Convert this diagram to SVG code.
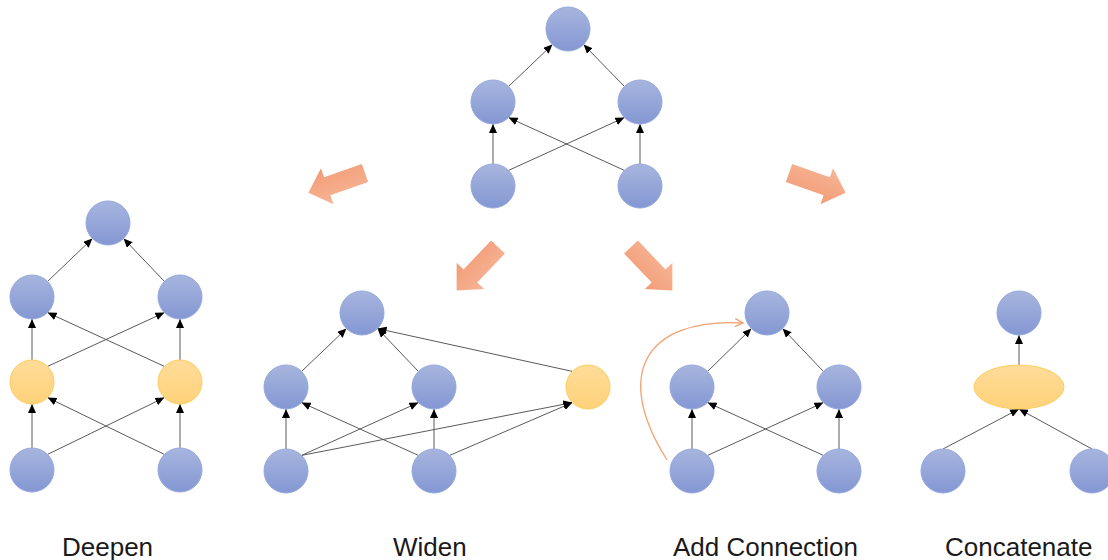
<svg xmlns="http://www.w3.org/2000/svg" width="1108" height="560" viewBox="0 0 1108 560">
<defs>
<linearGradient id="gB" x1="0" y1="0" x2="0" y2="1"><stop offset="0" stop-color="#a7b5de"/><stop offset="1" stop-color="#8497d3"/></linearGradient>
<linearGradient id="gY" x1="0" y1="0" x2="0" y2="1"><stop offset="0" stop-color="#ffdc9a"/><stop offset="1" stop-color="#ffd27a"/></linearGradient>
<linearGradient id="gO" x1="0" y1="0" x2="0" y2="1"><stop offset="0" stop-color="#f7b597"/><stop offset="1" stop-color="#f29c76"/></linearGradient>
<marker id="ah" viewBox="0 0 9 8" refX="9" refY="4" markerWidth="9" markerHeight="8" markerUnits="userSpaceOnUse" orient="auto"><path d="M0,0 L9,4 L0,8 z" fill="#000"/></marker>
<marker id="oh" viewBox="0 0 10 10" refX="9" refY="5" markerWidth="10" markerHeight="10" markerUnits="userSpaceOnUse" orient="auto"><path d="M1,1 L9,5 L1,9" fill="none" stroke="#f4a070" stroke-width="1.3"/></marker>
<polygon id="fat" points="0,-9.5 40,-9.5 40,-19 60,0 40,19 40,9.5 0,9.5"/>
</defs>
<style>
.n{fill:url(#gB);stroke:#94a8de;stroke-width:1}
.y{fill:url(#gY);stroke:#fdcc5c;stroke-width:1}
.e line{stroke:#5a5a5a;stroke-width:1;marker-end:url(#ah)}
.big{fill:url(#gO)}
.lbl{font-family:"Liberation Sans",Arial,sans-serif;font-size:26px;fill:#1a1a1a}
</style>
<rect width="1108" height="560" fill="#fff"/>

<g id="bigArrows" class="big">
<use href="#fat" transform="translate(365,173) rotate(160.7)"/>
<use href="#fat" transform="translate(789,173) rotate(19.3)"/>
<use href="#fat" transform="translate(498,247) rotate(133.6)"/>
<use href="#fat" transform="translate(631,247) rotate(46.4)"/>
</g>

<g id="connectors" class="e">
<!-- top graph -->
<line x1="493" y1="164" x2="493" y2="124"/>
<line x1="640" y1="164" x2="640" y2="124"/>
<line x1="508.6" y1="170.4" x2="624.4" y2="117.6"/>
<line x1="624.4" y1="170.4" x2="508.6" y2="117.6"/>
<line x1="508.6" y1="86.4" x2="552.4" y2="44.6"/>
<line x1="624.4" y1="86.4" x2="583.6" y2="44.6"/>
<!-- deepen -->
<line x1="32" y1="448" x2="32" y2="404"/>
<line x1="180" y1="448" x2="180" y2="404"/>
<line x1="47.6" y1="454.4" x2="164.4" y2="397.6"/>
<line x1="164.4" y1="454.4" x2="47.6" y2="397.6"/>
<line x1="32" y1="360" x2="32" y2="319"/>
<line x1="180" y1="360" x2="180" y2="319"/>
<line x1="47.6" y1="366.4" x2="164.4" y2="312.6"/>
<line x1="164.4" y1="366.4" x2="47.6" y2="312.6"/>
<line x1="47.6" y1="281.4" x2="92.4" y2="238.6"/>
<line x1="164.4" y1="281.4" x2="123.6" y2="238.6"/>
<!-- widen -->
<line x1="286" y1="449" x2="286" y2="409"/>
<line x1="434" y1="449" x2="434" y2="409"/>
<line x1="301.6" y1="455.4" x2="418.4" y2="402.6"/>
<line x1="418.4" y1="455.4" x2="301.6" y2="402.6"/>
<line x1="301.6" y1="371.4" x2="346.4" y2="328.6"/>
<line x1="418.4" y1="371.4" x2="377.6" y2="328.6"/>
<line x1="572.4" y1="371.4" x2="377.6" y2="328.6"/>
<line x1="301.6" y1="455.4" x2="572.4" y2="402.6"/>
<line x1="449.6" y1="455.4" x2="572.4" y2="402.6"/>
<!-- add connection -->
<line x1="692" y1="449" x2="692" y2="409"/>
<line x1="839" y1="449" x2="839" y2="409"/>
<line x1="707.6" y1="455.4" x2="823.4" y2="402.6"/>
<line x1="823.4" y1="455.4" x2="707.6" y2="402.6"/>
<line x1="707.6" y1="371.4" x2="751.4" y2="328.6"/>
<line x1="823.4" y1="371.4" x2="782.6" y2="328.6"/>
<path d="M667,460 C613.5,375.5 643,318 743,323" fill="none" stroke="#f4a070" stroke-width="1.3" marker-end="url(#oh)"/>
<!-- concatenate -->
<line x1="1019" y1="365" x2="1019" y2="335"/>
<line x1="943" y1="449" x2="1019" y2="409"/>
<line x1="1092" y1="449" x2="1019" y2="409"/>
</g>

<g id="top">
<circle id="top-t" class="n" cx="568" cy="29" r="22"/>
<circle id="top-ml" class="n" cx="493" cy="102" r="22"/>
<circle id="top-mr" class="n" cx="640" cy="102" r="22"/>
<circle id="top-bl" class="n" cx="493" cy="186" r="22"/>
<circle id="top-br" class="n" cx="640" cy="186" r="22"/>
</g>

<g id="deepen">
<circle id="dp-t" class="n" cx="108" cy="223" r="22"/>
<circle id="dp-m1" class="n" cx="32" cy="297" r="22"/>
<circle id="dp-m2" class="n" cx="180" cy="297" r="22"/>
<circle id="dp-y1" class="y" cx="32" cy="382" r="22"/>
<circle id="dp-y2" class="y" cx="180" cy="382" r="22"/>
<circle id="dp-b1" class="n" cx="32" cy="470" r="22"/>
<circle id="dp-b2" class="n" cx="180" cy="470" r="22"/>
</g>

<g id="widen">
<circle id="wd-t" class="n" cx="362" cy="313" r="22"/>
<circle id="wd-l" class="n" cx="286" cy="387" r="22"/>
<circle id="wd-m" class="n" cx="434" cy="387" r="22"/>
<circle id="wd-y" class="y" cx="588" cy="387" r="22"/>
<circle id="wd-bl" class="n" cx="286" cy="471" r="22"/>
<circle id="wd-bm" class="n" cx="434" cy="471" r="22"/>
</g>

<g id="addconn">
<circle id="ac-t" class="n" cx="767" cy="313" r="22"/>
<circle id="ac-l" class="n" cx="692" cy="387" r="22"/>
<circle id="ac-r" class="n" cx="839" cy="387" r="22"/>
<circle id="ac-bl" class="n" cx="692" cy="471" r="22"/>
<circle id="ac-br" class="n" cx="839" cy="471" r="22"/>
</g>

<g id="concat">
<circle id="cc-t" class="n" cx="1019" cy="313" r="22"/>
<ellipse id="cc-e" class="y" cx="1019" cy="387" rx="45" ry="22"/>
<circle id="cc-bl" class="n" cx="943" cy="471" r="22"/>
<circle id="cc-br" class="n" cx="1092" cy="471" r="22"/>
</g>

<g id="labels" class="lbl">
<text x="62" y="556">Deepen</text>
<text x="393" y="556">Widen</text>
<text x="673" y="556">Add Connection</text>
<text x="945" y="556">Concatenate</text>
</g>
</svg>
